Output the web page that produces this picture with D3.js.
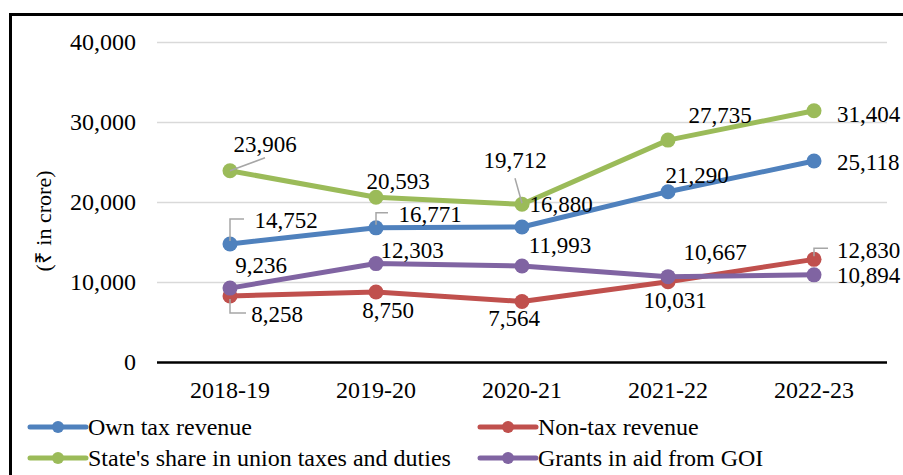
<!DOCTYPE html>
<html>
<head>
<meta charset="utf-8">
<script src="https://cdn.jsdelivr.net/npm/d3@7"></script>
<style>
    body { margin: 0; background: #fff; }
    svg { display: block; font-family: "Liberation Serif", "Times New Roman", serif; }
</style>
</head>
<body>
<div id="chart"></div>
<script>
// Revenue components, 2018-19 to 2022-23 (₹ in crore)

const years = ["2018-19", "2019-20", "2020-21", "2021-22", "2022-23"];
const ownTax = [14752, 16771, 16880, 21290, 25118];
const nonTax = [8258, 8750, 7564, 10031, 12830];
const stateShare = [23906, 20593, 19712, 27735, 31404];
const grants = [9236, 12303, 11993, 10667, 10894];
const yTicks = [0, 10000, 20000, 30000, 40000];

const seriesNames = ["Own tax revenue", "Non-tax revenue", "State's share in union taxes and duties", "Grants in aid from GOI"];
const seriesValues = [ownTax, nonTax, stateShare, grants];
const seriesColors = ["#4F81BD", "#C0504D", "#9BBB59", "#8064A2"];

// label placement relative to each point: [dx, dy, anchor]
const labelOffsets = [
    [[56, -16, "middle"], [54, -6, "middle"], [39, -15, "middle"], [29, -9, "middle"], [23, 9, "start"]],
    [[47, 26, "middle"], [12, 26, "middle"], [-8, 25, "middle"], [7, 26, "middle"], [23, -1, "start"]],
    [[35, -19, "middle"], [22, -8, "middle"], [-7, -36, "middle"], [52, -17, "middle"], [23, 11, "start"]],
    [[31, -15, "middle"], [36, -6, "middle"], [38, -13, "middle"], [47, -17, "middle"], [23, 8, "start"]]
];

// leader lines: [series, point, polyline offsets]
const leaders = [
    [0, 0, [[0, -3], [0, -25], [14, -25]]],
    [0, 1, [[0, -3], [0, -15], [12, -15]]],
    [1, 0, [[0, 3], [0, 17], [16, 17]]],
    [1, 4, [[0, -3], [0, -11], [14, -11]]],
    [2, 0, [[0, 0], [35, -13]]],
    [2, 2, [[0, -1], [-7, -26]]]
];

function createVisualization() {
    const svgWidth = 903;
    const svgHeight = 475;

    const svg = d3.select("#chart")
        .append("svg")
        .attr("width", svgWidth)
        .attr("height", svgHeight);

    // outer frame (runs off the right and bottom edges)
    svg.append("rect")
        .attr("x", 10.5)
        .attr("y", 14.5)
        .attr("width", 1000)
        .attr("height", 1000)
        .attr("fill", "none")
        .attr("stroke", "#000")
        .attr("stroke-width", 3);

    const xScale = d3.scaleBand()
        .domain(years)
        .range([157, 887])
        .padding(0);

    const yScale = d3.scaleLinear()
        .domain([0, 40000])
        .range([362, 42]);

    const cx = i => xScale(years[i]) + xScale.bandwidth() / 2;

    // y axis with gridlines
    const yAxis = d3.axisLeft(yScale)
        .tickValues(yTicks)
        .tickSize(-(887 - 157))
        .tickPadding(21)
        .tickFormat(d3.format(","));

    const yG = svg.append("g")
        .attr("transform", "translate(157,0)")
        .call(yAxis);
    yG.select(".domain").remove();
    yG.selectAll(".tick line")
        .attr("stroke", d => d === 0 ? "#000" : "#d9d9d9")
        .attr("stroke-width", d => d === 0 ? 2.5 : 1.5);
    yG.selectAll(".tick text")
        .attr("font-size", 24)
        .attr("font-family", "Liberation Serif, Times New Roman, serif")
        .attr("fill", "#000");

    // x axis
    const xAxis = d3.axisBottom(xScale).tickSize(0).tickPadding(19);
    const xG = svg.append("g")
        .attr("transform", "translate(0,362)")
        .call(xAxis);
    xG.select(".domain").remove();
    xG.selectAll(".tick text")
        .attr("font-size", 24)
        .attr("font-family", "Liberation Serif, Times New Roman, serif")
        .attr("fill", "#000");

    // y axis title
    svg.append("text")
        .attr("transform", "translate(51,221) rotate(-90)")
        .attr("text-anchor", "middle")
        .attr("font-size", 22)
        .text("(₹ in crore)");

    // lines
    const line = d3.line()
        .x((d, i) => cx(i))
        .y(d => yScale(d));

    seriesValues.forEach((vals, s) => {
        svg.append("path")
            .datum(vals)
            .attr("fill", "none")
            .attr("stroke", seriesColors[s])
            .attr("stroke-width", 5)
            .attr("stroke-linejoin", "round")
            .attr("d", line);

        svg.selectAll(".dot-" + s)
            .data(vals)
            .enter().append("circle")
            .attr("class", "dot-" + s)
            .attr("cx", (d, i) => cx(i))
            .attr("cy", d => yScale(d))
            .attr("r", 7.5)
            .attr("fill", seriesColors[s]);
    });

    // leader lines
    leaders.forEach(([s, i, pts]) => {
        const px = cx(i), py = yScale(seriesValues[s][i]);
        svg.append("polyline")
            .attr("points", pts.map(p => (px + p[0]) + "," + (py + p[1])).join(" "))
            .attr("fill", "none")
            .attr("stroke", "#a6a6a6")
            .attr("stroke-width", 1.5);
    });

    // data labels
    seriesValues.forEach((vals, s) => {
        svg.selectAll(".lbl-" + s)
            .data(vals)
            .enter().append("text")
            .attr("class", "lbl-" + s)
            .attr("x", (d, i) => cx(i) + labelOffsets[s][i][0])
            .attr("y", (d, i) => yScale(d) + labelOffsets[s][i][1])
            .attr("text-anchor", (d, i) => labelOffsets[s][i][2])
            .attr("font-size", 23)
            .attr("fill", "#000")
            .text(d => d3.format(",")(d));
    });

    // legend
    const legendPos = [[30, 427], [480, 427], [30, 458], [480, 458]];
    seriesNames.forEach((name, s) => {
        const [lx, ly] = legendPos[s];
        const g = svg.append("g").attr("transform", `translate(${lx},${ly})`);
        g.append("line")
            .attr("x1", 0).attr("x2", 56)
            .attr("stroke", seriesColors[s])
            .attr("stroke-width", 5)
            .attr("stroke-linecap", "round");
        g.append("circle")
            .attr("cx", 28)
            .attr("r", 6)
            .attr("fill", seriesColors[s]);
        g.append("text")
            .attr("x", 58)
            .attr("y", 8)
            .attr("font-size", 24)
            .attr("fill", "#000")
            .text(name);
    });
}

createVisualization();
</script>
</body>
</html>
